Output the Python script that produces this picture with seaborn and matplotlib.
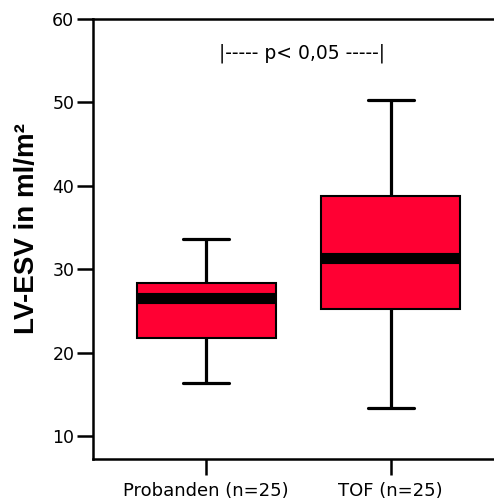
import matplotlib
matplotlib.use("Agg")
import matplotlib.pyplot as plt
import seaborn as sns
import pandas as pd

# Five-number summaries (min, Q1, median, Q3, max)
groups = ["Probanden (n=25)", "TOF (n=25)"]
probanden_vals = [16.3, 21.8, 26.6, 28.4, 33.6]
tof_vals = [13.3, 25.2, 31.4, 38.8, 50.3]
y_ticks = [10, 20, 30, 40, 50, 60]
y_label = "LV-ESV in ml/m²"
annotation = "|----- p< 0,05 -----|"

df = pd.DataFrame({
    "group": [groups[0]] * len(probanden_vals) + [groups[1]] * len(tof_vals),
    "value": probanden_vals + tof_vals,
})

sns.set_theme(style="ticks")
plt.rcParams["font.family"] = ["DejaVu Sans"]

fig = plt.figure(figsize=(4.94, 5.04), dpi=100)
ax = fig.add_axes([93 / 494, 45 / 504, 1 - 93 / 494, (459 - 19) / 504])

sns.boxplot(
    data=df, x="group", y="value", order=groups, ax=ax,
    color="#FF0033", saturation=1, width=0.755, whis=(0, 100),
    linecolor="black", linewidth=1.5,
    medianprops=dict(linewidth=8, color="black", solid_capstyle="butt"),
    whiskerprops=dict(linewidth=2.3, color="black"),
    capprops=dict(linewidth=2.3, color="black"),
    capwidths=0.25,
)

ax.set_xlim(-0.614, 1.56)
ax.set_ylim(7.24, 60)
ax.set_yticks(y_ticks)
ax.set_xlabel("")
ax.set_ylabel(y_label, fontsize=20, fontweight="bold", color="black",
              family=["Liberation Sans", "DejaVu Sans"])
ax.yaxis.set_label_coords(-0.132, 0.525)
ax.tick_params(axis="y", length=11.5, width=1.8, labelsize=12.5, pad=2, colors="black")
ax.tick_params(axis="x", length=11.5, width=1.8, labelsize=13, pad=5, colors="black")
for side in ["left", "bottom", "top"]:
    ax.spines[side].set_linewidth(1.8)
    ax.spines[side].set_color("black")
ax.spines["right"].set_visible(False)

ax.text(0.52, 55.9, annotation, ha="center", va="center", fontsize=13.5, color="black")

fig.savefig("out.png", dpi=100)
